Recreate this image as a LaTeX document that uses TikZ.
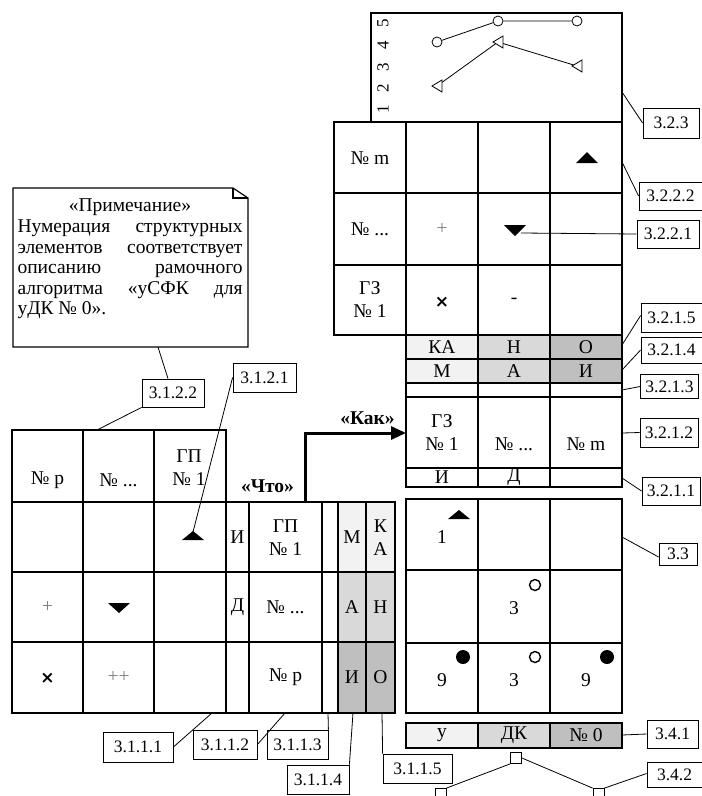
\documentclass[tikz,border=0pt]{standalone}
\usepackage{fontspec}
\setmainfont{Liberation Serif}
\newfontfamily\crossfont{DejaVu Sans}
\usetikzlibrary{arrows.meta}
\definecolor{cL}{HTML}{F2F2F2}
\definecolor{cM}{HTML}{D9D9D9}
\definecolor{cD}{HTML}{BFBFBF}
\newcommand{\gf}{\fontsize{19.5}{23}\selectfont}
\newcommand{\lf}{\fontsize{17.5}{19}\selectfont}
\newcommand{\nf}{\fontsize{19.5}{20.6}\selectfont}
\newcommand{\af}{\fontsize{17}{18}\selectfont}
\newcommand{\crs}{{\crossfont\bfseries\fontsize{17}{18}\selectfont ×}}
\begin{document}
\begin{tikzpicture}[x=1pt,y=-1pt,
  grid/.style={line width=1.6pt},
  conn/.style={line width=0.8pt},
  lbl/.style={draw,line width=0.8pt,font=\lf,inner xsep=5pt,inner ysep=0pt,minimum height=28pt},
  txt/.style={font=\gf,align=center,inner sep=0pt},
  odot/.style={circle,draw,line width=1.4pt,minimum size=11pt,inner sep=0pt},
  bdot/.style={circle,fill=black,minimum size=14pt,inner sep=0pt},
  cdot/.style={circle,draw,line width=0.8pt,fill=white,minimum size=10pt,inner sep=0pt},
  sq/.style={draw,line width=0.8pt,fill=white,minimum size=11pt,inner sep=0pt},
]
\useasboundingbox (0,0) rectangle (702,796);

% ---------------- note ----------------
\draw[line width=1.2pt] (13,188) -- (233,188) -- (248,198) -- (248,347) -- (13,347) -- cycle;
\draw[line width=1.2pt] (233,188) -- (233,198) -- (248,198);
\node[font=\nf,align=left,inner sep=0pt,anchor=north] (note) at (130,199) {%
\makebox[225pt][c]{«Примечание»}\\
\makebox[225pt][s]{Нумерация структурных}\\
\makebox[225pt][s]{элементов соответствует}\\
\makebox[225pt][s]{описанию рамочного}\\
\makebox[225pt][s]{алгоритма «уСФК для}\\
\makebox[225pt][l]{уДК № 0».}};
\coordinate (nb) at (158,347);

% ---------------- upper right: chart ----------------
\draw[grid] (371,13) rectangle (622,122);
\foreach \v/\yy in {1/109,2/88,3/67,4/45,5/23}
  \node[font=\af,rotate=90,inner sep=0pt] (ax\v) at (383,\yy) {\v};
\node[cdot] (c1) at (437,42) {};
\node[cdot] (c2) at (498,21) {};
\node[cdot] (c3) at (577,21) {};
\draw[conn] (c1) -- (c2) -- (c3);
\coordinate (t1) at (437,86);
\coordinate (t2) at (498,42);
\coordinate (t3) at (577,66);
\draw[conn] (t1) -- (t2) -- (t3);
\foreach \t in {t1,t2,t3}
  \draw[conn,fill=white] (\t) ++(-5,0) -- ++(10,-6) -- ++(0,12) -- cycle;
\coordinate (chartR) at (622,92);

% ---------------- 3.2.2 grid ----------------
\draw[grid] (334,122) rectangle (622,335);
\draw[grid] (334,193) -- (622,193);
\draw[grid] (334,265) -- (622,265);
\foreach \xx in {406,478,550} \draw[grid] (\xx,122) -- (\xx,335);
\node[txt] (m1) at (370,158) {№ m};
\node[txt] (m2) at (370,229) {№ ...};
\node[txt] (m3) at (370,300) {ГЗ\\№ 1};
\fill (587,158) ++(-11,5) -- ++(22,0) -- ++(-11,-11) -- cycle;
\node[txt,text=gray] (p1) at (442,229) {+};
\fill (515,230) ++(-11,-5) -- ++(22,0) -- ++(-11,11) -- cycle;
\coordinate (dtri) at (521,233);
\node[inner sep=0pt] (x1) at (442,302) {\crs};
\node[txt] (h1) at (514,301) {-};
\coordinate (g322a) at (622,162);

% ---------------- 3.2.1 rows ----------------
\fill[cL] (406,335) rectangle (478,383);
\fill[cM] (478,335) rectangle (550,383);
\fill[cD] (550,335) rectangle (622,383);
\draw[grid] (406,335) rectangle (622,487);
\foreach \yy in {359,383,397,468} \draw[grid] (406,\yy) -- (622,\yy);
\foreach \xx in {478,550} \draw[grid] (\xx,335) -- (\xx,487);
\node[txt] (k1) at (442,347) {КА};
\node[txt] (k2) at (514,347) {Н};
\node[txt] (k3) at (586,347) {О};
\node[txt] (k4) at (442,371) {М};
\node[txt] (k5) at (514,371) {А};
\node[txt] (k6) at (586,371) {И};
\node[txt] (z1) at (442,433) {ГЗ\\№ 1};
\node[txt] (z2) at (514,444) {№ ...};
\node[txt] (z3) at (586,444) {№ m};
\node[txt] (z4) at (442,477) {И};
\node[txt] (z5) at (514,477) {Д};
\coordinate (gz) at (406,433);

% ---------------- 3.3 grid ----------------
\draw[grid] (406,499) rectangle (622,713);
\foreach \yy in {570,643} \draw[grid] (406,\yy) -- (622,\yy);
\foreach \xx in {478,550} \draw[grid] (\xx,499) -- (\xx,713);
\fill (459,515) ++(-11,4) -- ++(22,0) -- ++(-11,-9) -- cycle;
\node[txt] (n1) at (442,537) {1};
\node[odot] (o1) at (535,585) {};
\node[txt] (n2) at (514,608) {3};
\node[bdot] (b1) at (463,657) {};
\node[odot] (o2) at (535,657) {};
\node[bdot] (b2) at (607,657) {};
\node[txt] (n3) at (442,680) {9};
\node[txt] (n4) at (514,680) {3};
\node[txt] (n5) at (586,680) {9};

% ---------------- 3.4.1 row ----------------
\fill[cL] (406,723) rectangle (478,748);
\fill[cM] (478,723) rectangle (550,748);
\fill[cD] (550,723) rectangle (622,748);
\draw[grid] (406,723) rectangle (622,748);
\foreach \xx in {478,550} \draw[grid] (\xx,723) -- (\xx,748);
\node[txt] (u1) at (442,735) {у};
\node[txt] (u2) at (514,735) {ДК};
\node[txt] (u3) at (586,735) {№ 0};

% tree
\node[sq] (sqT) at (516,758) {};
\node[sq] (sqL) at (440.5,794) {};
\node[sq] (sqR) at (598.5,794) {};
\draw[conn] (sqT.south west) -- (sqL.north east);
\draw[conn] (sqT.east) -- (sqR.north west);

% ---------------- left grid ----------------
\draw[grid] (12,430) rectangle (226,713);
\foreach \yy in {502,572,642} \draw[grid] (12,\yy) -- (226,\yy);
\foreach \xx in {83,154} \draw[grid] (\xx,430) -- (\xx,713);
\node[txt] (a1) at (47.5,480) {№ p};
\node[txt] (a2) at (118.5,480) {№ ...};
\node[txt] (a3) at (189,468) {ГП\\№ 1};
\fill (193,536) ++(-11,4) -- ++(22,0) -- ++(-11,-9) -- cycle;
\coordinate (ltri) at (193,532);
\node[txt,text=gray] (a4) at (47.5,607) {+};
\fill (119,603) ++(-11,0) -- ++(22,0) -- ++(-11,10) -- cycle;
\node[inner sep=0pt] (a5) at (47.5,678) {\crs};
\node[txt,text=gray] (a6) at (118.5,677) {++};
\coordinate (gtop) at (97,430);

% ---------------- middle columns ----------------
\fill[cL] (338,502) rectangle (395,572);
\fill[cM] (338,572) rectangle (395,642);
\fill[cD] (338,642) rectangle (395,713);
\draw[grid] (226,502) rectangle (395,713);
\foreach \yy in {572,642} \draw[grid] (226,\yy) -- (395,\yy);
\foreach \xx in {249,322,338,366} \draw[grid] (\xx,502) -- (\xx,713);
\node[txt] (b11) at (237.5,537) {И};
\node[txt] (b12) at (285.5,538) {ГП\\№ 1};
\node[txt] (b13) at (352,537) {М};
\node[txt] (b14) at (380.5,538) {К\\А};
\node[txt] (b21) at (237.5,607) {Д};
\node[txt] (b22) at (285.5,607) {№ ...};
\node[txt] (b23) at (352,607) {А};
\node[txt] (b24) at (380.5,607) {Н};
\node[txt] (b32) at (285.5,677) {№ p};
\node[txt] (b33) at (352,677) {И};
\node[txt] (b34) at (380.5,677) {О};
\coordinate (what) at (305,503);

% arrow and captions
\draw[line width=3pt,-{Triangle[length=15pt,width=13pt]}] (what) |- (gz);
\node[font=\gf\bfseries,inner sep=0pt] (kak) at (367.5,418) {«Как»};
\node[font=\gf\bfseries,inner sep=0pt] (chto) at (267.5,486) {«Что»};

% ---------------- labels ----------------
\node[lbl,minimum width=56pt,minimum height=30pt] (L323) at (671,123) {3.2.3};
\node[lbl,minimum width=63pt] (L3222) at (670.5,196) {3.2.2.2};
\node[lbl,minimum width=62pt] (L3221) at (668,234) {3.2.2.1};
\node[lbl,minimum width=61pt,minimum height=29pt] (L3215) at (671.5,317.5) {3.2.1.5};
\node[lbl,minimum width=61pt,minimum height=26pt] (L3214) at (671.5,350) {3.2.1.4};
\node[lbl,minimum width=57pt,minimum height=24pt] (L3213) at (669.5,386.5) {3.2.1.3};
\node[lbl,minimum width=56pt,minimum height=29pt] (L3212) at (669,432.5) {3.2.1.2};
\node[lbl,minimum width=58pt] (L3211) at (671,491) {3.2.1.1};
\node[lbl,minimum width=38pt,minimum height=22pt] (L33) at (678,554) {3.3};
\node[lbl,minimum width=51pt] (L341) at (672.5,734) {3.4.1};
\node[lbl,minimum width=55pt,minimum height=25pt] (L342) at (674.5,774.5) {3.4.2};
\node[lbl,minimum width=62pt] (L3122) at (173,393) {3.1.2.2};
\node[lbl,minimum width=63pt,minimum height=29pt] (L3121) at (264.5,377.5) {3.1.2.1};
\node[lbl,minimum width=70pt,minimum height=30pt] (L3111) at (138,747) {3.1.1.1};
\node[lbl,minimum width=64pt,minimum height=29pt] (L3112) at (225,744.5) {3.1.1.2};
\node[lbl,minimum width=61pt,minimum height=29pt] (L3113) at (297.5,744.5) {3.1.1.3};
\node[lbl,minimum width=62pt,minimum height=29pt] (L3114) at (318,779.5) {3.1.1.4};
\node[lbl,minimum width=69pt,minimum height=29pt] (L3115) at (417.5,768.5) {3.1.1.5};

% grid anchors for connectors
\coordinate (e3215) at (622,345);
\coordinate (e3214) at (622,370);
\coordinate (e3213) at (622,390);
\coordinate (e3212) at (622,433);
\coordinate (e3211) at (622,478);
\coordinate (e33) at (622,537);
\coordinate (e341) at (622,735);
\coordinate (e3111) at (212,713);
\coordinate (e3112) at (285,713);
\coordinate (e3113) at (328,713);
\coordinate (e3114) at (353,713);
\coordinate (e3115) at (382,713);

% ---------------- connectors ----------------
\draw[conn] (chartR) -- (L323.west);
\draw[conn] (g322a) -- (L3222.west);
\draw[conn] (dtri) -- (L3221.west);
\draw[conn] (e3215) -- ([yshift=2pt]L3215.west);
\draw[conn] (e3214) -- (L3214.west);
\draw[conn] (e3213) -- (L3213.west);
\draw[conn] (e3212) -- (L3212.west);
\draw[conn] (e3211) -- (L3211.west);
\draw[conn] (e33) -- ([yshift=-3pt]L33.west);
\draw[conn] (e341) -- (L341.west);
\draw[conn] (sqR.north east) -- ([yshift=1pt]L342.west);
\draw[conn] (nb) -- ([xshift=-5pt]L3122.north);
\draw[conn] (L3122.south west) -- (gtop);
\draw[conn] (L3121.west) -- (ltri);
\draw[conn] (L3111.east) -- (e3111);
\draw[conn] (L3112.east) -- (e3112);
\draw[conn] (L3113.north east) -- (e3113);
\draw[conn] (L3114.north east) -- (e3114);
\draw[conn] (L3115.north west) -- (e3115);
\end{tikzpicture}
\end{document}
